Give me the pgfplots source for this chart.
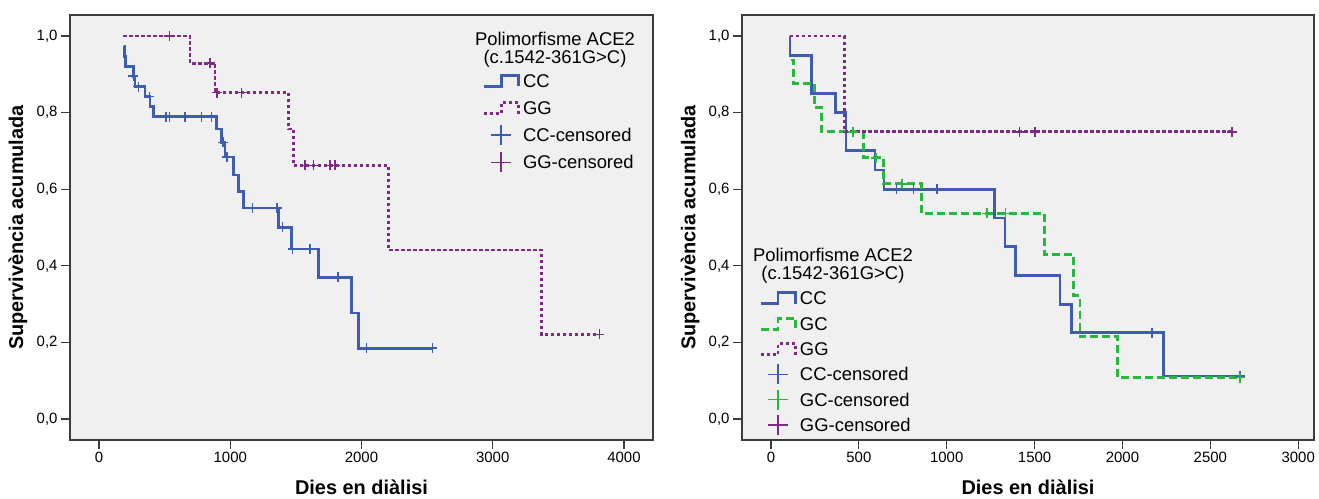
\documentclass[border=0pt]{standalone}
\usepackage{pgfplots}
\pgfplotsset{compat=1.18}
\usepackage{fontspec}
\setmainfont{Liberation Sans}
\definecolor{ccblue}{RGB}{62,92,178}
\definecolor{gcgreen}{RGB}{38,184,62}
\definecolor{ggpurple}{RGB}{125,42,132}
\definecolor{bgcol}{RGB}{240,240,240}
\definecolor{framecol}{RGB}{60,60,60}
\pgfplotsset{
  spss/.style={
    scale only axis,
    height=425bp,
    ymin=-0.0548, ymax=1.0548,
    ytick={0,0.2,0.4,0.6,0.8,1.0},
    yticklabel style={/pgf/number format/.cd, fixed, fixed zerofill, precision=1, use comma, assume math mode=true},
    xticklabel style={/pgf/number format/.cd, fixed, 1000 sep={}, assume math mode=true},
    scaled x ticks=false,
    tick align=outside,
    xtick pos=left, ytick pos=left,
    major tick length=9bp,
    tick style={framecol, line width=1.2bp},
    axis line style={framecol, line width=1.2bp},
    axis background/.style={fill=bgcol},
    ticklabel style={font=\fontsize{15}{18}\selectfont},
    label style={font=\bfseries\fontsize{20}{24}\selectfont},
    xlabel={Dies en diàlisi},
    ylabel={Supervivència acumulada},
    legend cell align=left,
    legend style={draw=none, fill=none, inner sep=0pt, row sep=13.5bp,
      font=\fontsize{18.5}{22}\selectfont,
      nodes={inner xsep=3bp, inner ysep=0bp, text height=13.3bp, text depth=0.3bp}},
  },
  stepimg/.style={legend image code/.code={%
    \draw[##1] (0bp,-5.5bp) -- (17.5bp,-5.5bp) -- (17.5bp,5.5bp) -- (35bp,5.5bp) -- (35bp,-5.5bp);}},
  censimg/.style={legend image code/.code={%
    \path[draw=none, fill=none] (0bp,-5.5bp) (35bp,5.5bp);
    \draw[##1, mark size=10bp, overlay] plot coordinates {(17.5bp,0bp)};}},
  censor/.style={only marks, mark=+, mark size=5bp, mark options={line width=1.6bp}, censimg},
}
\begin{document}
\begin{tikzpicture}
\useasboundingbox (0,0) rectangle (1319bp,499bp);
% ---------------- left panel ----------------
\begin{axis}[spss,
  at={(70bp,59bp)}, anchor=south west,
  width=583bp,
  xmin=-221, xmax=4221,
  xtick={0,1000,2000,3000,4000},
  xlabel style={at={(axis description cs:0.5,-0.1106)}, anchor=center},
  ylabel style={at={(axis description cs:-0.0892,0.5)}, anchor=center},
  legend style={at={(axis description cs:0.7067,0.862)}, anchor=north west},
]
\addplot[const plot, ccblue, line width=2.8bp, stepimg] coordinates {
 (190,0.974) (195,0.947) (203,0.921) (262,0.895) (274,0.868) (350,0.842)
 (389,0.816) (414,0.789) (897,0.757) (935,0.722) (960,0.684) (1024,0.637)
 (1062,0.594) (1100,0.551) (1366,0.500) (1468,0.444) (1671,0.370)
 (1925,0.277) (1976,0.185) (2540,0.185)};
\addlegendentry{CC}
\addplot[const plot, ggpurple, line width=2.8bp, dash pattern=on 3.5bp off 2.5bp, stepimg] coordinates {
 (185,1.0) (693,0.929) (884,0.852) (1443,0.757) (1481,0.662) (2204,0.441)
 (3373,0.221) (3812,0.221)};
\addlegendentry{GG}
\addplot[censor, ccblue] coordinates {
 (262,0.895) (300,0.868) (384,0.842) (510,0.789) (536,0.789) (655,0.789)
 (782,0.789) (858,0.789) (947,0.722) (973,0.684) (1168,0.551) (1358,0.551)
 (1399,0.500) (1475,0.444) (1608,0.444) (1823,0.370) (2039,0.185) (2540,0.185)};
\addlegendentry{CC-censored}
\addplot[censor, ggpurple] coordinates {
 (536,1.0) (846,0.929) (901,0.852) (1087,0.852) (1570,0.662) (1633,0.662)
 (1760,0.662) (1798,0.662) (3812,0.221)};
\addlegendentry{GG-censored}
\node[font=\fontsize{18.5}{22}\selectfont, anchor=base] at (axis description cs:0.8319,0.9294) {Polimorfisme ACE2};
\node[font=\fontsize{18.5}{22}\selectfont, anchor=base] at (axis description cs:0.8319,0.8847) {(c.1542-361G>C)};
\end{axis}
% ---------------- right panel ----------------
\begin{axis}[spss,
  at={(742bp,59bp)}, anchor=south west,
  width=572bp,
  xmin=-165, xmax=3090,
  xtick={0,500,1000,1500,2000,2500,3000},
  xlabel style={at={(axis description cs:0.5,-0.1106)}, anchor=center},
  ylabel style={at={(axis description cs:-0.0909,0.5)}, anchor=center},
  legend style={at={(axis description cs:0.0297,0.350)}, anchor=north west, row sep=11.6bp},
]
\addplot[const plot, ccblue, line width=2.8bp, stepimg] coordinates {
 (108,1.0) (108,0.95) (232,0.85) (368,0.80) (427,0.70) (592,0.65) (643,0.60)
 (1271,0.525) (1332,0.45) (1393,0.375) (1645,0.30) (1711,0.225)
 (2233,0.1125) (2670,0.1125)};
\addlegendentry{CC}
\addplot[const plot, gcgreen, line width=2.8bp, dash pattern=on 8bp off 4bp, stepimg] coordinates {
 (112,0.9375) (127,0.875) (246,0.8125) (289,0.75) (528,0.682) (638,0.614)
 (857,0.537) (1556,0.43) (1720,0.322) (1758,0.215) (1971,0.108) (2670,0.108)};
\addlegendentry{GC}
\addplot[const plot, ggpurple, line width=2.8bp, dash pattern=on 3.5bp off 2.5bp, stepimg] coordinates {
 (108,1.0) (417,0.75) (2622,0.75)};
\addlegendentry{GG}
\addplot[censor, ccblue] coordinates {
 (715,0.6) (810,0.6) (946,0.6) (2167,0.225) (2670,0.1125)};
\addlegendentry{CC-censored}
\addplot[censor, gcgreen] coordinates {
 (467,0.75) (596,0.682) (747,0.614) (1230,0.537) (1334,0.537) (2670,0.108)};
\addlegendentry{GC-censored}
\addplot[censor, ggpurple] coordinates {
 (1413,0.75) (1503,0.75) (2622,0.75)};
\addlegendentry{GG-censored}
\node[font=\fontsize{18.5}{22}\selectfont, anchor=base] at (axis description cs:0.159,0.4195) {Polimorfisme ACE2};
\node[font=\fontsize{18.5}{22}\selectfont, anchor=base] at (axis description cs:0.159,0.3765) {(c.1542-361G>C)};
\end{axis}
\end{tikzpicture}
\end{document}
